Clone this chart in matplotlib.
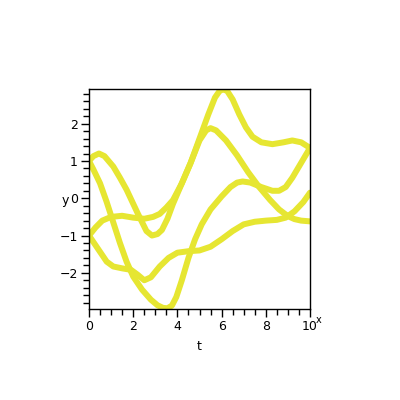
import matplotlib
matplotlib.use('Agg')
import matplotlib.pyplot as plt
from matplotlib.ticker import MultipleLocator

# curves (t, value)
t_a = [0, 0.2, 0.45, 0.7, 1.1, 1.4, 1.7, 2.2, 2.6, 2.85, 3.1, 3.3, 3.55, 3.8, 4.2,
       4.6, 5.0, 5.4, 5.7, 5.9, 6.05, 6.25, 6.5, 6.8, 7.1, 7.4, 7.8, 8.3, 8.8, 9.2, 9.6, 10]
y_a = [1.0, 1.13, 1.2, 1.13, 0.85, 0.55, 0.23, -0.4, -0.88, -1.0, -0.96, -0.85, -0.55, -0.15, 0.4,
       0.95, 1.6, 2.25, 2.7, 2.87, 2.92, 2.88, 2.65, 2.25, 1.9, 1.65, 1.5, 1.45, 1.5, 1.55, 1.5, 1.35]

t_b = [0, 0.2, 0.5, 0.8, 1.1, 1.4, 1.7, 2.0, 2.4, 2.8, 3.1, 3.35, 3.55, 3.75, 3.95,
       4.2, 4.5, 4.8, 5.1, 5.5, 6.0, 6.4, 6.7, 6.95, 7.3, 7.8, 8.3, 8.6, 8.9, 9.2, 9.6, 10]
y_b = [1.0, 0.77, 0.4, -0.1, -0.65, -1.2, -1.7, -2.1, -2.45, -2.72, -2.87, -2.94, -2.95, -2.88, -2.65,
       -2.2, -1.6, -1.1, -0.7, -0.3, 0.05, 0.3, 0.42, 0.45, 0.42, 0.3, 0.2, 0.2, 0.3, 0.55, 0.95, 1.35]

t_c = [0, 0.3, 0.6, 1.0, 1.5, 2.0, 2.5, 2.9, 3.2, 3.5, 3.8, 4.2, 4.6, 5.0, 5.3, 5.5,
       5.75, 6.2, 6.7, 7.2, 7.7, 8.2, 8.6, 9.0, 9.3, 9.6, 10]
y_c = [-1.0, -0.78, -0.6, -0.5, -0.47, -0.52, -0.55, -0.5, -0.42, -0.25, -0.05, 0.4, 0.95, 1.55, 1.82, 1.88,
       1.82, 1.55, 1.15, 0.7, 0.3, -0.05, -0.3, -0.48, -0.56, -0.6, -0.62]

t_d = [0, 0.4, 0.8, 1.1, 1.5, 1.9, 2.2, 2.5, 2.8, 3.2, 3.6, 4.0, 4.5, 5.0, 5.5,
       6.0, 6.5, 7.0, 7.5, 8.0, 8.5, 8.9, 9.3, 9.7, 10]
y_d = [-1.0, -1.35, -1.7, -1.83, -1.88, -1.92, -2.05, -2.2, -2.12, -1.83, -1.6, -1.46, -1.42, -1.4, -1.3,
       -1.1, -0.88, -0.7, -0.63, -0.6, -0.58, -0.52, -0.35, -0.1, 0.15]

curves = [(t_a, y_a), (t_b, y_b), (t_c, y_c), (t_d, y_d)]

fig = plt.figure(figsize=(4, 4), dpi=100)
ax = fig.add_axes([0.2225, 0.2275, 0.5525, 0.55])

for t, y in curves:
  ax.plot(t, y, color='#e6e632', lw=4.3, solid_capstyle='round', solid_joinstyle='round')

ax.set_xlim(0, 10)
ax.set_ylim(-2.97, 2.93)
ax.xaxis.set_major_locator(MultipleLocator(2))
ax.xaxis.set_minor_locator(MultipleLocator(0.5))
ax.yaxis.set_major_locator(MultipleLocator(1))
ax.yaxis.set_minor_locator(MultipleLocator(0.2))
ax.tick_params(which='both', direction='out', top=False, right=False, width=1, labelsize=9, pad=2)
ax.tick_params(which='major', length=6)
ax.tick_params(which='minor', length=4)
for s in ax.spines.values():
  s.set_linewidth(1)

ax.set_xlabel('t', fontsize=9, labelpad=5)
ax.set_ylabel('y', fontsize=9, rotation=0, va='center', ha='right')
ax.yaxis.set_label_coords(-0.09, 0.495)
fig.text(319 / 400, 1 - 320 / 400, 'x', fontsize=7, ha='center', va='center')

fig.savefig('out.png', dpi=100)
